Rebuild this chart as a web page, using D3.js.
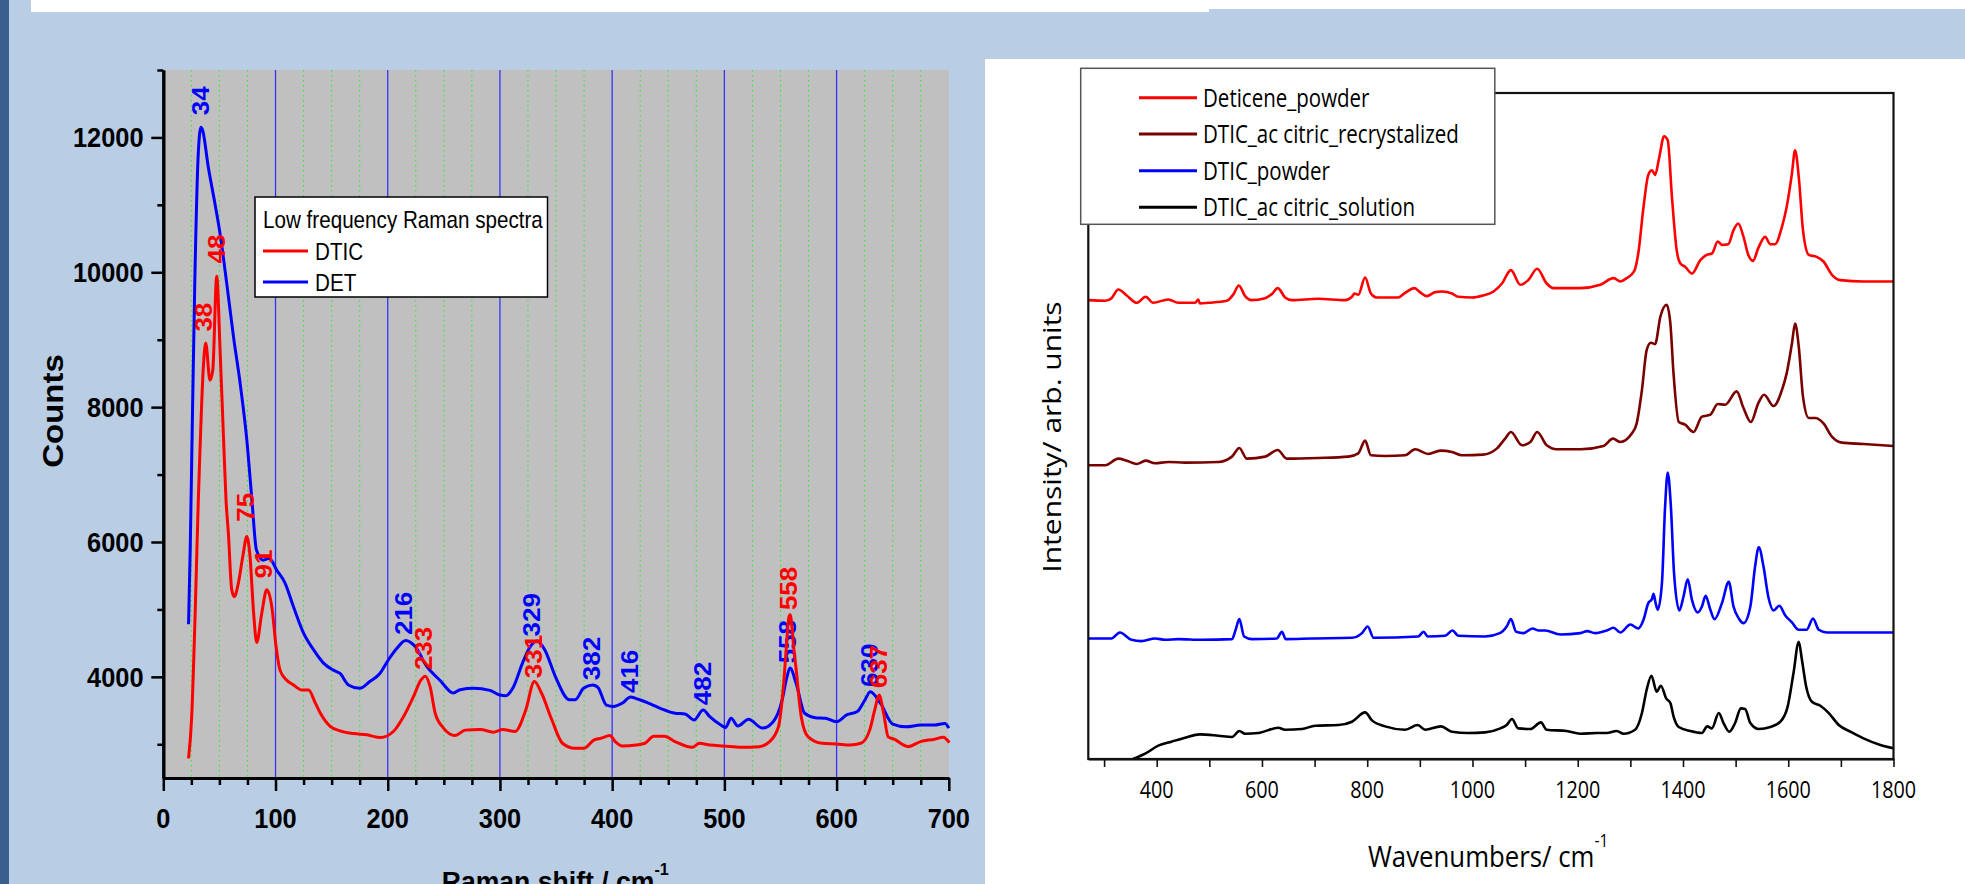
<!DOCTYPE html>
<html><head><meta charset="utf-8">
<script src="https://cdn.jsdelivr.net/npm/d3@7"></script>
<style>html,body{margin:0;padding:0;overflow:hidden;background:#b9cde5}</style>
</head><body>
<script>
// ---------------- LEFT CHART DATA (Raman shift cm-1, counts) ----------------
const dticSpectrum = [[22.5,2790],[25.3,3410],[28.3,4890],[31.2,6620],[32.7,7360],[35.7,8600],[37.8,8950],[41.6,8400],[44.1,8550],[47.6,9940],[50.6,8850],[53.5,7610],[55.9,6620],[58,6130],[61,5290],[63.3,5190],[66.9,5390],[70.8,5780],[74.4,6080],[77.3,5780],[80.3,4990],[83.3,4510],[87.7,4940],[92.2,5290],[96.7,5040],[100.5,4450],[104,4100],[110,3950],[116,3880],[123.5,3805],[129.5,3805],[135.5,3610],[140,3460],[148.5,3270],[157.5,3200],[169.5,3160],[181.5,3140],[193.5,3100],[205,3190],[214,3410],[223,3710],[229.5,3950],[233.4,4010],[237.8,3850],[242.3,3460],[249.7,3240],[260,3130],[269,3210],[282.5,3220],[294,3180],[302.6,3220],[313.5,3190],[323,3510],[330.7,3930],[337,3760],[346.3,3360],[355.7,3015],[366.7,2940],[374.5,2940],[384,3065],[390,3090],[398,3130],[402.7,3040],[409,2975],[421.4,2990],[429.3,3015],[437,3120],[446.5,3120],[456,3040],[471.4,2955],[477.7,3015],[487,2990],[499.6,2975],[515,2955],[531,2965],[540.3,3040],[548.2,3260],[552.8,3900],[555.5,4500],[557.4,4880],[558.6,4920],[560.2,4750],[562,4400],[563.7,4150],[568.5,3410],[574.7,3110],[587,3015],[600,3005],[612,2990],[621.6,3015],[629.5,3210],[634,3510],[637.9,3730],[641.9,3460],[646,3110],[651.3,3075],[663.8,2965],[674.8,3040],[687.3,3075],[695,3105],[700.5,3025]];
const detSpectrum = [[22.5,4780],[24,5900],[25.5,7400],[28,9800],[31,11700],[33.5,12150],[35,12110],[40,11570],[46,11020],[50.5,10580],[56.5,9840],[62.5,9050],[68.5,8350],[74.5,7500],[79,6620],[83,5880],[89,5730],[94.5,5760],[101,5585],[108.5,5390],[116,5040],[125,4650],[134,4400],[143,4200],[151.5,4100],[157.5,4050],[165,3880],[175,3830],[184,3930],[193,4050],[200.5,4250],[208,4420],[216,4540],[224.5,4450],[235,4150],[246.5,3950],[258.5,3760],[264.5,3810],[276.5,3830],[291,3800],[300,3730],[305,3720],[312,3850],[320,4200],[327,4450],[333,4530],[340,4400],[349.5,4000],[362,3660],[367,3660],[374.5,3830],[382.5,3880],[387,3850],[395,3580],[401,3560],[409,3610],[416.5,3700],[424.5,3660],[434,3600],[443.5,3530],[456,3460],[465,3450],[473,3360],[481,3510],[487,3410],[496.5,3290],[501,3250],[506,3385],[512,3270],[521.5,3370],[534,3240],[543.5,3335],[551.5,3660],[555.5,3980],[558.5,4130],[564,3900],[571.5,3460],[581,3395],[590,3385],[600,3335],[609,3435],[618.5,3485],[625,3650],[630,3780],[639,3610],[650,3300],[662,3260],[675,3285],[687,3285],[696.5,3310],[700,3240]];
// peak annotations: [label, shift, counts at label start]
const dticPeaks = [["38",35.9,9120],["48",47.6,10130],["75",72.9,6300],["91",89.2,5460],["233",231.9,4100],["331",329.8,3980],["558",557.5,4990],["637",637.2,3830]];
const detPeaks = [["34",32.8,12330],["216",214,4620],["329",328.4,4600],["382",381.7,3950],["416",415.2,3760],["482",480.8,3580],["558",555.9,4200],["630",629.4,3850]];
const leftYTicks = [4000,6000,8000,10000,12000];
const leftYMinor = [3000,5000,7000,9000,11000,13000];
const leftXTicks = [0,100,200,300,400,500,600,700];
const leftLegendTitle = "Low frequency Raman spectra";
const leftSeriesNames = ["DTIC","DET"];

// ---------------- RIGHT CHART DATA (wavenumber cm-1, intensity arb.) ----------------
const deticenePowder = [[270,68.9],[302,68.8],[314,69.2],[327,70.5],[343,69.6],[362,68.5],[379,69.4],[393,68.5],[422,69.0],[441,68.5],[473,68.5],[479,69.0],[482,68.4],[498,68.5],[533,68.8],[546,69.8],[556,71.1],[568,69.5],[580,68.9],[606,69.2],[620,69.9],[630,70.7],[644,69.3],[657,68.9],[707,69.1],[758,68.9],[771,69.4],[776,69.9],[783,69.7],[796,72.3],[807,69.9],[818,69.3],[859,69.3],[872,70.0],[890,70.7],[900,70.1],[913,69.5],[929,70.1],[942,70.2],[961,69.9],[973,69.4],[999,69.3],[1020,69.6],[1040,70.2],[1056,71.4],[1073,73.4],[1091,71.2],[1106,71.9],[1123,73.6],[1141,71.4],[1154,70.7],[1205,70.7],[1243,71.2],[1268,72.2],[1281,71.7],[1293,72.2],[1307,73.2],[1315,75.9],[1325,82.9],[1334,87.7],[1341,88.4],[1347,87.7],[1355,90.4],[1364,93.5],[1371,92.9],[1379,84.4],[1388,76.4],[1395,74.4],[1404,73.9],[1417,72.9],[1433,74.9],[1445,75.7],[1455,75.9],[1466,77.7],[1474,77.2],[1486,77.3],[1496,79.4],[1505,80.4],[1515,78.4],[1524,75.7],[1533,74.8],[1543,76.7],[1556,78.4],[1566,77.3],[1575,77.3],[1588,79.9],[1597,82.9],[1607,87.9],[1613,91.4],[1620,87.4],[1628,79.4],[1639,75.7],[1654,75.4],[1667,74.7],[1683,72.7],[1699,71.9],[1743,71.7],[1800,71.7]];
const dticRecrystallized = [[270,44.1],[302,44.1],[327,45.1],[343,44.8],[362,44.3],[379,44.8],[397,44.4],[422,44.6],[454,44.5],[517,44.6],[543,45.4],[557,46.7],[571,45.1],[606,45.4],[630,46.4],[647,45.1],[707,45.2],[764,45.4],[783,45.9],[796,47.8],[807,45.6],[834,45.5],[872,45.6],[891,46.5],[916,45.8],[939,46.3],[961,46.1],[980,45.6],[1020,45.7],[1046,46.6],[1062,48.1],[1073,49.1],[1094,47.1],[1110,47.6],[1123,49.1],[1141,47.1],[1160,46.5],[1205,46.5],[1249,47.0],[1267,48.1],[1281,47.6],[1303,48.9],[1312,50.4],[1322,55.4],[1331,61.4],[1339,62.5],[1347,62.3],[1357,66.4],[1369,68.2],[1376,65.4],[1382,57.9],[1392,50.6],[1404,50.2],[1420,49.1],[1436,51.4],[1452,51.7],[1466,53.3],[1480,53.2],[1502,55.2],[1515,52.7],[1529,50.6],[1543,53.4],[1554,54.7],[1572,53.0],[1588,55.4],[1597,57.9],[1607,62.4],[1613,65.4],[1620,61.9],[1628,54.4],[1639,51.2],[1651,51.2],[1667,50.4],[1683,48.4],[1702,47.5],[1743,47.3],[1800,47.0]];
const dticPowder = [[270,18.1],[314,18.1],[330,19.0],[352,17.9],[371,17.7],[397,18.1],[416,17.9],[441,18.0],[485,17.9],[543,18.0],[550,19.4],[557,21.0],[566,18.4],[581,18.0],[628,18.1],[638,19.1],[645,18.0],[695,18.1],[771,18.2],[790,18.9],[801,19.9],[812,18.2],[897,18.4],[907,19.1],[915,18.4],[948,18.5],[962,19.3],[973,18.5],[1024,18.4],[1052,18.9],[1065,19.9],[1073,21.0],[1083,19.1],[1097,18.9],[1114,19.6],[1125,19.3],[1138,19.3],[1167,18.7],[1205,18.9],[1218,19.2],[1233,18.9],[1255,19.3],[1268,19.7],[1281,19.0],[1300,20.2],[1315,19.6],[1325,20.9],[1334,23.4],[1341,24.0],[1344,24.8],[1348,23.4],[1352,22.4],[1360,26.4],[1366,37.9],[1371,43.0],[1377,37.9],[1383,27.9],[1393,22.3],[1401,24.4],[1409,27.0],[1417,23.9],[1428,22.0],[1436,22.9],[1443,24.5],[1452,22.4],[1460,21.0],[1474,23.4],[1487,26.6],[1496,22.9],[1506,21.1],[1515,20.4],[1528,22.9],[1537,28.9],[1544,31.8],[1553,28.9],[1562,24.4],[1572,22.3],[1583,23.0],[1594,21.6],[1607,20.5],[1620,19.4],[1635,19.4],[1647,21.1],[1658,19.4],[1673,19.0],[1800,19.0]];
const dticSolution = [[355,0],[378,0.8],[403,2.0],[428,2.6],[454,3.2],[482,3.7],[517,3.5],[543,3.3],[557,4.2],[568,3.8],[593,3.9],[631,4.7],[644,4.4],[676,4.5],[701,5.0],[745,5.1],[771,5.6],[796,7.0],[809,5.8],[834,4.9],[872,4.4],[896,5.1],[910,4.4],[940,4.9],[961,4.1],[992,3.9],[1024,4.0],[1053,4.6],[1065,5.1],[1075,6.0],[1087,4.6],[1110,4.5],[1130,5.5],[1141,4.4],[1179,4.2],[1205,3.8],[1236,3.9],[1255,3.9],[1274,4.2],[1287,3.8],[1309,4.4],[1322,6.9],[1331,10.4],[1340,12.5],[1350,10.1],[1358,11.0],[1368,9.1],[1376,8.4],[1382,6.4],[1392,4.8],[1414,4.2],[1436,3.9],[1446,4.9],[1455,4.6],[1468,6.9],[1477,5.4],[1488,4.1],[1499,5.4],[1510,7.6],[1518,7.5],[1528,5.4],[1544,4.5],[1566,4.8],[1585,5.6],[1599,7.9],[1610,12.9],[1620,17.6],[1626,14.9],[1634,10.9],[1645,8.6],[1661,8.0],[1677,6.9],[1696,5.1],[1718,4.1],[1743,3.1],[1775,2.1],[1800,1.6]];
const rightSeriesNames = ["Deticene_powder","DTIC_ac citric_recrystalized","DTIC_powder","DTIC_ac citric_solution"];
const rightXTickLabels = [400,600,800,1000,1200,1400,1600,1800];
const rightXMinor = [300,400,500,600,700,800,900,1000,1100,1200,1300,1400,1500,1600,1700,1800];

// ---------------- DRAWING ----------------
const W = 1965, H = 884;
const svg = d3.select("body").append("svg").attr("width", W).attr("height", H);
const ARIAL = "'Liberation Sans', Arial, sans-serif";
const OPEN = "'Open Sans', 'Noto Sans', sans-serif";

function txt(g, x, y, s, o) {
  const t = g.append("text")
    .attr("transform", `translate(${x},${y}) scale(${o.sx || 1},1)` + (o.rot ? ` rotate(${o.rot})` : ""))
    .attr("text-anchor", o.anchor || "start")
    .style("font-family", o.family || ARIAL)
    .style("font-size", o.size + "px")
    .style("font-weight", o.weight || "normal")
    .attr("fill", o.fill || "#000");
  if (o.dy) t.attr("dy", o.dy);
  t.text(s);
  return t;
}

// page background
svg.append("rect").attr("width", W).attr("height", H).attr("fill", "#b9cde5");
svg.append("rect").attr("x", 0).attr("y", 0).attr("width", 9).attr("height", H).attr("fill", "#3a5f8e");
svg.append("rect").attr("x", 31).attr("y", 0).attr("width", 1178).attr("height", 12).attr("fill", "#fff");
svg.append("rect").attr("x", 1209).attr("y", 0).attr("width", 756).attr("height", 9).attr("fill", "#fff");
svg.append("rect").attr("x", 985).attr("y", 59).attr("width", 980).attr("height", 825).attr("fill", "#fff");

// ===== LEFT CHART =====
const L = {left: 163.3, right: 948.8, top: 70, bottom: 778};
const xL = d3.scaleLinear().domain([0, 700]).range([L.left, L.right]);
const yL = d3.scaleLinear().domain([2500, 13000]).range([L.bottom, L.top]);
const gL = svg.append("g");
gL.append("rect").attr("x", xL(0)).attr("y", yL(13000)).attr("width", xL(700) - xL(0)).attr("height", yL(2500) - yL(13000)).attr("fill", "#c0c0c0");
// minor grid (green dotted)
gL.selectAll(".mg").data(d3.range(25, 700, 25).filter(v => v % 100 !== 0)).join("line")
  .attr("x1", d => xL(d)).attr("x2", d => xL(d)).attr("y1", yL(13000)).attr("y2", yL(2500))
  .attr("stroke", "#22ee22").attr("stroke-width", 1).attr("stroke-dasharray", "1.5,3.5");
// major grid (blue)
gL.selectAll(".Mg").data(d3.range(100, 700, 100)).join("line")
  .attr("x1", d => xL(d)).attr("x2", d => xL(d)).attr("y1", yL(13000)).attr("y2", yL(2500))
  .attr("stroke", "#3333ff").attr("stroke-width", 1.3);

// curves
const lineL = d3.line().x(d => xL(d[0])).y(d => yL(d[1])).curve(d3.curveMonotoneX);
gL.append("path").datum(detSpectrum).attr("d", lineL).attr("fill", "none").attr("stroke", "#0000ff").attr("stroke-width", 3).attr("stroke-linejoin", "round");
detPeaks.forEach(p => txt(gL, xL(p[1]), yL(p[2]), p[0], {size: 26, weight: "bold", fill: "#0000ff", sx: 0.9, rot: -90, dy: "0.36em"}));
gL.append("path").datum(dticSpectrum).attr("d", lineL).attr("fill", "none").attr("stroke", "#ff0000").attr("stroke-width", 3).attr("stroke-linejoin", "round");
dticPeaks.forEach(p => txt(gL, xL(p[1]), yL(p[2]), p[0], {size: 26, weight: "bold", fill: "#ff0000", sx: 0.9, rot: -90, dy: "0.36em"}));

// axes
const axY = gL.append("g").attr("transform", `translate(${L.left},0)`)
  .call(d3.axisLeft(yL).tickValues(leftYTicks).tickSize(12).tickSizeOuter(0).tickFormat(""));
const axYm = gL.append("g").attr("transform", `translate(${L.left},0)`)
  .call(d3.axisLeft(yL).tickValues(leftYMinor).tickSize(6).tickSizeOuter(0).tickFormat(""));
const axX = gL.append("g").attr("transform", `translate(0,${L.bottom})`)
  .call(d3.axisBottom(xL).tickValues(leftXTicks).tickSize(13).tickSizeOuter(0).tickFormat(""));
const axXm = gL.append("g").attr("transform", `translate(0,${L.bottom})`)
  .call(d3.axisBottom(xL).tickValues(d3.range(25, 700, 25).filter(v => v % 100 !== 0)).tickSize(7).tickSizeOuter(0).tickFormat(""));
[axY, axYm, axX, axXm].forEach(a => {
  a.select(".domain").attr("stroke", "#000").attr("stroke-width", 3);
  a.selectAll(".tick line").attr("stroke", "#000").attr("stroke-width", 2.5);
});
leftYTicks.forEach(v => txt(gL, 143.5, yL(v) + 10, String(v), {size: 27, weight: "bold", anchor: "end", sx: 0.94}));
leftXTicks.forEach(v => txt(gL, xL(v), 828, String(v), {size: 27, weight: "bold", anchor: "middle", sx: 0.94}));
txt(gL, 63, 411, "Counts", {size: 33, weight: "bold", anchor: "middle", sx: 0.88, rot: -90});
const xt = txt(gL, 441.7, 891, "Raman shift / cm", {size: 28, weight: "bold", sx: 0.95});
xt.append("tspan").attr("dy", -16).style("font-size", "17px").text("-1");

// legend
gL.append("rect").attr("x", 255).attr("y", 197).attr("width", 292.5).attr("height", 100).attr("fill", "#fff").attr("stroke", "#000").attr("stroke-width", 1.5);
txt(gL, 263, 228, leftLegendTitle, {size: 24, sx: 0.86});
[["#ff0000", 251], ["#0000ff", 282]].forEach((c, i) => {
  gL.append("line").attr("x1", 263).attr("x2", 308).attr("y1", c[1]).attr("y2", c[1]).attr("stroke", c[0]).attr("stroke-width", 3);
  txt(gL, 315, c[1] + 8.5, leftSeriesNames[i], {size: 24, sx: 0.86});
});

// ===== RIGHT CHART =====
const R = {left: 1088.3, right: 1893.5, top: 93, bottom: 759};
const xR = d3.scaleLinear().domain([270, 1800]).range([R.left, R.right]);
const yR = d3.scaleLinear().domain([0, 100]).range([R.bottom, R.top]);
const gR = svg.append("g");
svg.append("defs").append("clipPath").attr("id", "clipR").append("rect")
  .attr("x", R.left).attr("y", R.top).attr("width", R.right - R.left).attr("height", R.bottom - R.top);
const lineR = d3.line().x(d => xR(d[0])).y(d => yR(d[1])).curve(d3.curveMonotoneX);
const rightSeries = [dticSolution, dticPowder, dticRecrystallized, deticenePowder];
const rightColors = ["#000000", "#0000ff", "#7a0000", "#ff0000"];
const gLines = gR.append("g").attr("clip-path", "url(#clipR)");
rightSeries.forEach((s, i) => {
  gLines.append("path").datum(s).attr("d", lineR).attr("fill", "none").attr("stroke", rightColors[i]).attr("stroke-width", 2.6).attr("stroke-linejoin", "round");
});
// frame
gR.append("rect").attr("x", R.left).attr("y", R.top).attr("width", R.right - R.left).attr("height", R.bottom - R.top)
  .attr("fill", "none").attr("stroke", "#111").attr("stroke-width", 2.2);
const axR = gR.append("g").attr("transform", `translate(0,${R.bottom})`)
  .call(d3.axisBottom(xR).tickValues(rightXMinor).tickSize(8).tickSizeOuter(0).tickFormat(""));
axR.select(".domain").attr("stroke", "#111").attr("stroke-width", 2.2);
axR.selectAll(".tick line").attr("stroke", "#111").attr("stroke-width", 1.6);
rightXTickLabels.forEach(v => txt(gR, xR(v), 798, String(v), {size: 23, anchor: "middle", sx: 0.86, family: OPEN}));
const wt = txt(gR, 1368, 866.7, "Wavenumbers/ cm", {size: 30, sx: 0.86, family: OPEN});
wt.append("tspan").attr("dy", -20).style("font-size", "18px").text("-1");
txt(gR, 1061, 437, "Intensity/ arb. units", {size: 30, anchor: "middle", sx: 0.85, rot: -90, family: OPEN});

// legend
gR.append("rect").attr("x", 1080.7).attr("y", 68.3).attr("width", 414.1).attr("height", 156).attr("fill", "#fff").attr("stroke", "#555").attr("stroke-width", 1.5);
const legColors = ["#ff0000", "#7a0000", "#0000ff", "#000000"];
const legY = [97.7, 134, 170.7, 207.3];
rightSeriesNames.forEach((n, i) => {
  gR.append("line").attr("x1", 1139).attr("x2", 1197).attr("y1", legY[i]).attr("y2", legY[i]).attr("stroke", legColors[i]).attr("stroke-width", 3);
  txt(gR, 1203, legY[i] + 9, n, {size: 25, sx: 0.82, family: OPEN});
});
</script>
</body></html>
